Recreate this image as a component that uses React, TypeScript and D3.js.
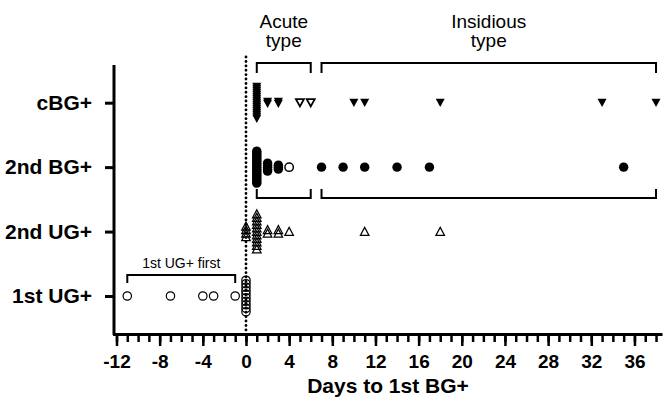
import React, { useRef, useEffect } from 'react';
import * as d3 from 'd3';

// rows top to bottom
const rows = ['cBG+', '2nd BG+', '2nd UG+', '1st UG+'];
const xTicks = [-12, -8, -4, 0, 4, 8, 12, 16, 20, 24, 28, 32, 36];

// days to 1st BG+, one value per subject
const cbgFilled = [
  1, 1, 1, 1, 1, 1, 1, 1, 1, 1, 1, 1, 1, 1, 1, 1, 1,
  2, 2, 3, 3, 10, 11, 18, 33, 38,
];
const cbgOpen = [5, 6];
const bg2Filled = [
  1, 1, 1, 1, 1, 1, 1, 1, 1, 1, 1, 1, 1, 1, 1, 1, 1,
  2, 2, 2, 2, 2, 3, 3, 3, 7, 9, 11, 14, 17, 35,
];
const bg2Open = [4];
const ug2Open = [0, 0, 0, 0, 1, 1, 1, 1, 1, 1, 1, 1, 1, 1, 1, 2, 2, 3, 3, 4, 11, 18];
const ug1Open = [-11, -7, -4, -3, -1, 0, 0, 0, 0, 0, 0, 0, 0, 0, 0];

const FONT = '"Liberation Sans", Arial, Helvetica, sans-serif';

// spread subjects with the same day vertically around the row
const spread = (vals: number[], step: number) => {
  const counts = d3.rollup(vals, v => v.length, d => d);
  const seen = new Map<number, number>();
  return vals.map(v => {
    const i = seen.get(v) ?? 0;
    seen.set(v, i + 1);
    const n = counts.get(v)!;
    return { v, off: (i - (n - 1) / 2) * step };
  });
};

const triDown = 'M-4.5,-4 L4.5,-4 L0,4.2 Z';
const triUp = 'M0,-4.2 L4.3,3.8 L-4.3,3.8 Z';

export default function App() {
  const ref = useRef<SVGSVGElement>(null);

  useEffect(() => {
    const svg = d3.select(ref.current);
    svg.selectAll('*').remove();

    const x = d3.scaleLinear().domain([-12, 38.6]).range([116.5, 662.5]);
    const y = d3.scalePoint<string>().domain(rows).range([102.7, 296]);

    // dotted line at day 0
    svg.append('line')
      .attr('x1', x(0)).attr('x2', x(0))
      .attr('y1', 57).attr('y2', 332)
      .attr('stroke', '#000')
      .attr('stroke-width', 2.8)
      .attr('stroke-linecap', 'round')
      .attr('stroke-dasharray', '0.1 4.3');

    // minor ticks
    svg.append('g')
      .attr('transform', 'translate(0,334)')
      .call(d3.axisBottom(x).tickValues(d3.range(-12, 39)).tickSize(8).tickSizeOuter(0).tickFormat(() => ''))
      .call(g => g.select('.domain').remove())
      .call(g => g.selectAll('line').attr('stroke-width', 2.5));

    // major ticks
    svg.append('g')
      .attr('transform', 'translate(0,334)')
      .call(d3.axisBottom(x).tickValues(xTicks).tickSize(12).tickSizeOuter(0).tickPadding(9)
        .tickFormat(d => String(d)))
      .call(g => g.select('.domain').attr('d', `M113,0.5H${x(38.6)}`).attr('stroke-width', 3))
      .call(g => g.selectAll('line').attr('stroke-width', 2.5))
      .call(g => g.selectAll('text')
        .attr('font-family', FONT).attr('font-size', 19).attr('font-weight', 'bold').attr('fill', '#000'));

    // y axis
    svg.append('line')
      .attr('x1', 114).attr('x2', 114).attr('y1', 65).attr('y2', 335)
      .attr('stroke', '#000').attr('stroke-width', 3);

    svg.append('g')
      .attr('transform', 'translate(114,0)')
      .call(d3.axisLeft(y).tickSize(9).tickPadding(13))
      .call(g => g.select('.domain').remove())
      .call(g => g.selectAll('line').attr('stroke-width', 3))
      .call(g => g.selectAll('text')
        .attr('font-family', FONT).attr('font-size', 21).attr('font-weight', 'bold').attr('fill', '#000'));

    svg.append('text')
      .attr('x', 388).attr('y', 393)
      .attr('text-anchor', 'middle')
      .attr('font-family', FONT).attr('font-size', 21).attr('font-weight', 'bold')
      .text('Days to 1st BG+');

    // brackets
    const bracket = (a: number, b: number, yy: number, len: number) => {
      svg.append('path')
        .attr('d', `M${x(a)},${yy + len}V${yy}H${x(b)}V${yy + len}`)
        .attr('fill', 'none').attr('stroke', '#000').attr('stroke-width', 2);
    };
    bracket(1, 6, 63, 10);
    bracket(7, 38, 63, 10);
    bracket(1, 6, 198, -9);
    bracket(7, 38, 198, -9);
    bracket(-11, -1, 275, 8);

    const label = (t: string, cx: number, yy: number, size: number) => {
      svg.append('text')
        .attr('x', cx).attr('y', yy)
        .attr('text-anchor', 'middle')
        .attr('font-family', FONT).attr('font-size', size)
        .text(t);
    };
    label('Acute', x(3.5), 28, 19);
    label('type', x(3.5), 47, 19);
    label('Insidious', x(22.5), 28, 19);
    label('type', x(22.5), 47, 19);
    label('1st UG+ first', x(-6), 268, 14);

    // points
    const cyc = y('cBG+')!;
    svg.append('g').selectAll('path')
      .data(spread(cbgFilled, 2)).join('path')
      .attr('d', triDown)
      .attr('transform', d => `translate(${x(d.v)},${cyc + d.off})`)
      .attr('fill', '#000');
    svg.append('g').selectAll('path')
      .data(spread(cbgOpen, 2)).join('path')
      .attr('d', 'M-4,-3.5 L4,-3.5 L0,3.8 Z')
      .attr('transform', d => `translate(${x(d.v)},${cyc + d.off})`)
      .attr('fill', '#fff').attr('stroke', '#000').attr('stroke-width', 1.8);

    const cyb = y('2nd BG+')!;
    svg.append('g').selectAll('circle')
      .data(spread(bg2Filled, 2)).join('circle')
      .attr('cx', d => x(d.v)).attr('cy', d => cyb + d.off).attr('r', 4.7)
      .attr('fill', '#000');
    svg.append('g').selectAll('circle')
      .data(spread(bg2Open, 2)).join('circle')
      .attr('cx', d => x(d.v)).attr('cy', d => cyb + d.off).attr('r', 4.2)
      .attr('fill', '#fff').attr('stroke', '#000').attr('stroke-width', 1.5);

    const cyu2 = y('2nd UG+')!;
    svg.append('g').selectAll('path')
      .data(spread(ug2Open, 3.5)).join('path')
      .attr('d', triUp)
      .attr('transform', d => `translate(${x(d.v)},${cyu2 + d.off})`)
      .attr('fill', 'none').attr('stroke', '#000').attr('stroke-width', 1.2);

    const cyu1 = y('1st UG+')!;
    svg.append('g').selectAll('circle')
      .data(spread(ug1Open, 3.5)).join('circle')
      .attr('cx', d => x(d.v)).attr('cy', d => cyu1 + d.off).attr('r', 4.2)
      .attr('fill', 'none').attr('stroke', '#000').attr('stroke-width', 1.2);
  }, []);

  return (
    <svg
      ref={ref}
      width={669}
      height={413}
      style={{ position: 'absolute', left: 0, top: 0, background: '#fff', display: 'block' }}
    />
  );
}
